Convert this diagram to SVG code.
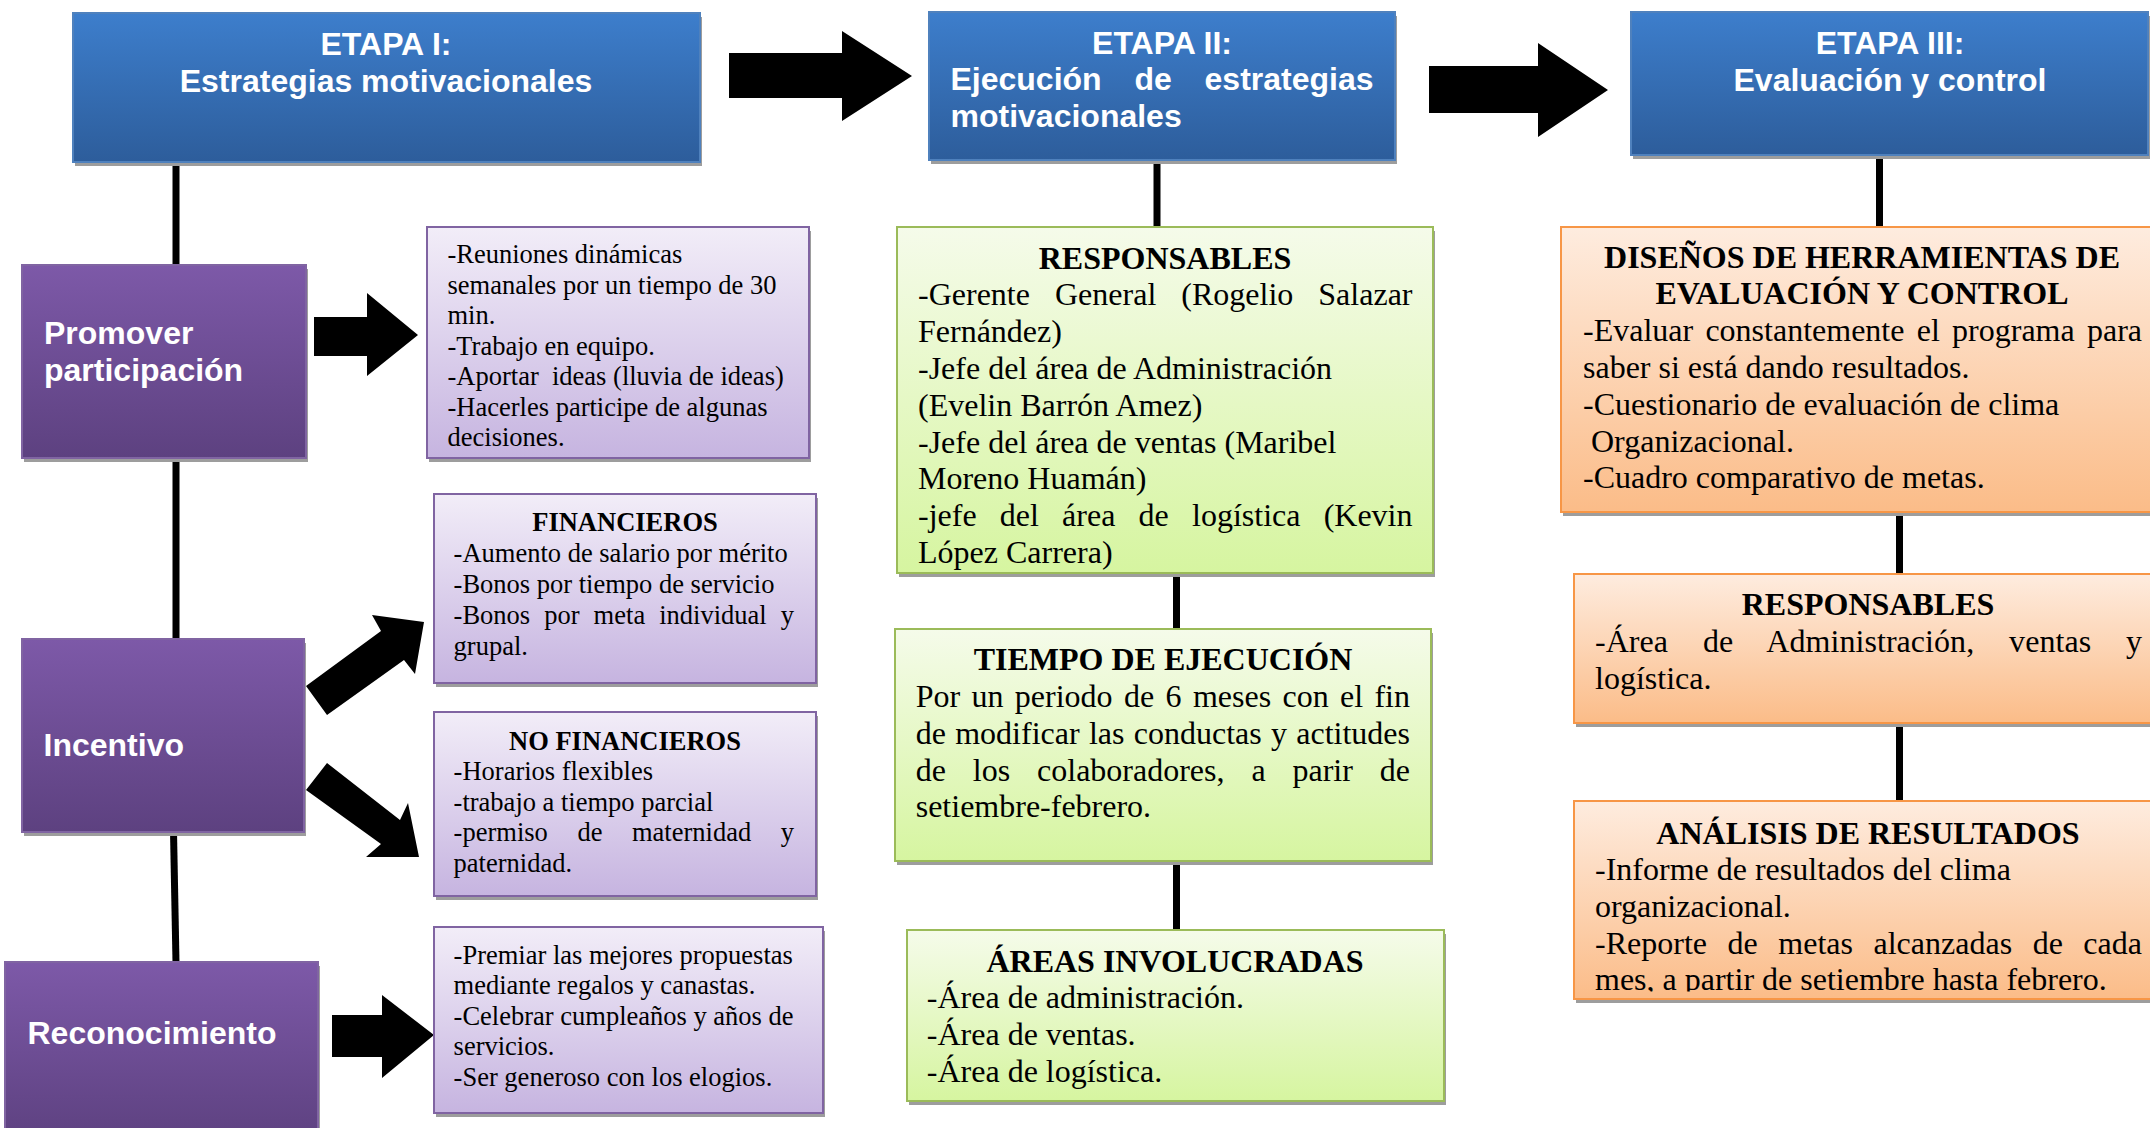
<svg xmlns="http://www.w3.org/2000/svg" width="2150" height="1128" viewBox="0 0 2150 1128">
  <defs>
    <linearGradient id="gBlue" x1="0" y1="0" x2="0" y2="1">
      <stop offset="0" stop-color="#3D7ECC"/>
      <stop offset="1" stop-color="#2D5D9B"/>
    </linearGradient>
    <linearGradient id="gPurple" x1="0" y1="0" x2="0" y2="1">
      <stop offset="0" stop-color="#7D59A8"/>
      <stop offset="1" stop-color="#5D4180"/>
    </linearGradient>
    <linearGradient id="gLav" x1="0" y1="0" x2="0" y2="1">
      <stop offset="0" stop-color="#F2EDF8"/>
      <stop offset="1" stop-color="#C6B4E0"/>
    </linearGradient>
    <linearGradient id="gGreen" x1="0" y1="0" x2="0" y2="1">
      <stop offset="0" stop-color="#F5FBEA"/>
      <stop offset="1" stop-color="#D6F5A0"/>
    </linearGradient>
    <linearGradient id="gOrange" x1="0" y1="0" x2="0" y2="1">
      <stop offset="0" stop-color="#FEECDF"/>
      <stop offset="1" stop-color="#FBBC88"/>
    </linearGradient>
    <clipPath id="clipAnalisis">
      <rect x="1574" y="801" width="600" height="190.5"/>
    </clipPath>
  </defs>
  <style>
    .sh{fill:#9d9d9d}
    .blue{fill:url(#gBlue);stroke:#4F81BD;stroke-width:2}
    .purple{fill:url(#gPurple);stroke:#8064A2;stroke-width:2}
    .lav{fill:url(#gLav);stroke:#8064A2;stroke-width:2}
    .green{fill:url(#gGreen);stroke:#9BBB59;stroke-width:2}
    .orange{fill:url(#gOrange);stroke:#F79646;stroke-width:2}
    .hw{font-family:"Liberation Sans",Arial,sans-serif;font-weight:bold;font-size:32px;fill:#fff}
    .c{text-anchor:middle}
    .s{font-family:"Liberation Serif","Times New Roman",serif;font-size:26.5px;fill:#000}
    .m{font-family:"Liberation Serif","Times New Roman",serif;font-size:32px;fill:#000}
    .b{font-weight:bold}
    .link{stroke:#000;stroke-width:7;fill:none}
    .arrow{fill:#000}
  </style>

  <rect width="2150" height="1128" fill="#fff"/>

  <!-- connectors and block arrows -->
  <g id="connectors">
    <line class="link" x1="176" y1="160" x2="176" y2="266"/>
    <line class="link" x1="176" y1="457" x2="176" y2="640"/>
    <line class="link" x1="173.5" y1="831" x2="176" y2="963"/>
    <line class="link" x1="1157" y1="158" x2="1157" y2="228"/>
    <line class="link" x1="1176.5" y1="572" x2="1176.5" y2="630"/>
    <line class="link" x1="1176.5" y1="860" x2="1176.5" y2="931"/>
    <line class="link" x1="1879.5" y1="154" x2="1879.5" y2="228"/>
    <line class="link" x1="1899.5" y1="511" x2="1899.5" y2="575"/>
    <line class="link" x1="1899.5" y1="722" x2="1899.5" y2="802"/>
    <polygon class="arrow" points="729,53 842,53 842,31 912,76 842,121 842,98 729,98"/>
    <polygon class="arrow" points="1429,66 1538,66 1538,43 1608,90 1538,137 1538,113 1429,113"/>
    <polygon class="arrow" points="314,317 367,317 367,293 418,335 367,376 367,356 314,356"/>
    <polygon class="arrow" points="306,686 381,631 372,615 424,622 415,674 404,660 327,715"/>
    <polygon class="arrow" points="327,763 400,820 408,803 419,857 366,857 381,844 306,790"/>
    <polygon class="arrow" points="332,1015 382,1015 382,995 434,1035 382,1078 382,1057 332,1057"/>
  </g>

  <!-- stage headers -->
  <g id="etapa1">
    <rect class="sh" x="75" y="17" width="627" height="149"/>
    <rect class="blue" x="73" y="13" width="627" height="149"/>
    <text class="hw c" x="386" y="54.5">ETAPA I:</text>
    <text class="hw c" x="386" y="91.5">Estrategias motivacionales</text>
  </g>
  <g id="etapa2">
    <rect class="sh" x="931" y="16" width="466" height="148"/>
    <rect class="blue" x="929" y="12" width="466" height="148"/>
    <text class="hw c" x="1162" y="53.5">ETAPA II:</text>
    <text class="hw" x="950.5" y="90" word-spacing="23.9" textLength="423" lengthAdjust="spacing">Ejecución de estrategias</text>
    <text class="hw" x="950.5" y="126.5">motivacionales</text>
  </g>
  <g id="etapa3">
    <rect class="sh" x="1633" y="16" width="517" height="143"/>
    <rect class="blue" x="1631" y="12" width="517" height="143"/>
    <text class="hw c" x="1890" y="54">ETAPA III:</text>
    <text class="hw c" x="1890" y="90.5">Evaluación y control</text>
  </g>

  <!-- stage I: strategies -->
  <g id="promover">
    <rect class="sh" x="24" y="269" width="284" height="193"/>
    <rect class="purple" x="22" y="265" width="284" height="193"/>
    <text class="hw" x="44" y="344">Promover</text>
    <text class="hw" x="44" y="381">participación</text>
  </g>
  <g id="incentivo">
    <rect class="sh" x="24" y="643" width="282" height="193"/>
    <rect class="purple" x="22" y="639" width="282" height="193"/>
    <text class="hw" x="43.5" y="756">Incentivo</text>
  </g>
  <g id="reconocimiento">
    <rect class="sh" x="7" y="966" width="313" height="180"/>
    <rect class="purple" x="5" y="962" width="313" height="180"/>
    <text class="hw" x="27.5" y="1043.5">Reconocimiento</text>
  </g>

  <g id="participacion-detalle">
    <rect class="sh" x="429" y="231" width="382" height="231"/>
    <rect class="lav" x="427" y="227" width="382" height="231"/>
    <text class="s" x="447.5" y="263">-Reuniones dinámicas</text>
    <text class="s" x="447.5" y="293.5">semanales por un tiempo de 30</text>
    <text class="s" x="447.5" y="324">min.</text>
    <text class="s" x="447.5" y="354.5">-Trabajo en equipo.</text>
    <text class="s" x="447.5" y="385" xml:space="preserve">-Aportar  ideas (lluvia de ideas)</text>
    <text class="s" x="447.5" y="415.5">-Hacerles participe de algunas</text>
    <text class="s" x="447.5" y="446">decisiones.</text>
  </g>
  <g id="financieros">
    <rect class="sh" x="436" y="498" width="382" height="189"/>
    <rect class="lav" x="434" y="494" width="382" height="189"/>
    <text class="s b c" x="625" y="530.5">FINANCIEROS</text>
    <text class="s" x="453.6" y="561.5">-Aumento de salario por mérito</text>
    <text class="s" x="453.6" y="592.5">-Bonos por tiempo de servicio</text>
    <text class="s" x="453.6" y="623.5" word-spacing="7.45" textLength="340.4" lengthAdjust="spacing">-Bonos por meta individual y</text>
    <text class="s" x="453.6" y="654.5">grupal.</text>
  </g>
  <g id="no-financieros">
    <rect class="sh" x="436" y="716" width="382" height="184"/>
    <rect class="lav" x="434" y="712" width="382" height="184"/>
    <text class="s b c" x="625" y="749.5">NO FINANCIEROS</text>
    <text class="s" x="453.6" y="780">-Horarios flexibles</text>
    <text class="s" x="453.6" y="810.5">-trabajo a tiempo parcial</text>
    <text class="s" x="453.6" y="841" word-spacing="22.9" textLength="340.4" lengthAdjust="spacing">-permiso de maternidad y</text>
    <text class="s" x="453.6" y="871.5">paternidad.</text>
  </g>
  <g id="reconocimiento-detalle">
    <rect class="sh" x="436" y="931" width="389" height="186"/>
    <rect class="lav" x="434" y="927" width="389" height="186"/>
    <text class="s" x="453.6" y="963.5">-Premiar las mejores propuestas</text>
    <text class="s" x="453.6" y="994">mediante regalos y canastas.</text>
    <text class="s" x="453.6" y="1024.5">-Celebrar cumpleaños y años de</text>
    <text class="s" x="453.6" y="1055">servicios.</text>
    <text class="s" x="453.6" y="1085.5">-Ser generoso con los elogios.</text>
  </g>

  <!-- stage II: execution -->
  <g id="responsables-ejecucion">
    <rect class="sh" x="899" y="231" width="536" height="346"/>
    <rect class="green" x="897" y="227" width="536" height="346"/>
    <text class="m b c" x="1165" y="268.5">RESPONSABLES</text>
    <text class="m" x="918" y="305.3" word-spacing="17" textLength="494.5" lengthAdjust="spacing">-Gerente General (Rogelio Salazar</text>
    <text class="m" x="918" y="342.1">Fernández)</text>
    <text class="m" x="918" y="378.9">-Jefe del área de Administración</text>
    <text class="m" x="918" y="415.7">(Evelin Barrón Amez)</text>
    <text class="m" x="918" y="452.5">-Jefe del área de ventas (Maribel</text>
    <text class="m" x="918" y="489.3">Moreno Huamán)</text>
    <text class="m" x="918" y="526.1" word-spacing="15.2" textLength="494.5" lengthAdjust="spacing">-jefe del área de logística (Kevin</text>
    <text class="m" x="918" y="562.9">López Carrera)</text>
  </g>
  <g id="tiempo-ejecucion">
    <rect class="sh" x="897" y="633" width="536" height="232"/>
    <rect class="green" x="895" y="629" width="536" height="232"/>
    <text class="m b c" x="1163" y="670.2">TIEMPO DE EJECUCIÓN</text>
    <text class="m" x="915.7" y="707" word-spacing="3.35" textLength="494.3" lengthAdjust="spacing">Por un periodo de 6 meses con el fin</text>
    <text class="m" x="915.7" y="743.8" word-spacing="1.3" textLength="494.3" lengthAdjust="spacing">de modificar las conductas y actitudes</text>
    <text class="m" x="915.7" y="780.6" word-spacing="18.9" textLength="494.3" lengthAdjust="spacing">de los colaboradores, a parir de</text>
    <text class="m" x="915.7" y="817.4">setiembre-febrero.</text>
  </g>
  <g id="areas-involucradas">
    <rect class="sh" x="909" y="934" width="537" height="171"/>
    <rect class="green" x="907" y="930" width="537" height="171"/>
    <text class="m b c" x="1175" y="971.5">ÁREAS INVOLUCRADAS</text>
    <text class="m" x="926.8" y="1008.3">-Área de administración.</text>
    <text class="m" x="926.8" y="1045.1">-Área de ventas.</text>
    <text class="m" x="926.8" y="1081.9">-Área de logística.</text>
  </g>

  <!-- stage III: evaluation -->
  <g id="herramientas-evaluacion">
    <rect class="sh" x="1563" y="231" width="610" height="285"/>
    <rect class="orange" x="1561" y="227" width="610" height="285"/>
    <text class="m b c" x="1862" y="267.5">DISEÑOS DE HERRAMIENTAS DE</text>
    <text class="m b c" x="1862" y="304.3">EVALUACIÓN Y CONTROL</text>
    <text class="m" x="1583" y="341.1" word-spacing="4.25" textLength="559" lengthAdjust="spacing">-Evaluar constantemente el programa para</text>
    <text class="m" x="1583" y="377.9">saber si está dando resultados.</text>
    <text class="m" x="1583" y="414.7">-Cuestionario de evaluación de clima</text>
    <text class="m" x="1591" y="451.5">Organizacional.</text>
    <text class="m" x="1583" y="488.3">-Cuadro comparativo de metas.</text>
  </g>
  <g id="responsables-evaluacion">
    <rect class="sh" x="1576" y="578" width="600" height="149"/>
    <rect class="orange" x="1574" y="574" width="600" height="149"/>
    <text class="m b c" x="1868" y="614.5">RESPONSABLES</text>
    <text class="m" x="1595" y="651.5" word-spacing="26.8" textLength="547" lengthAdjust="spacing">-Área de Administración, ventas y</text>
    <text class="m" x="1595" y="688.5">logística.</text>
  </g>
  <g id="analisis-resultados">
    <rect class="sh" x="1576" y="805" width="600" height="198"/>
    <rect class="orange" x="1574" y="801" width="600" height="198"/>
    <g clip-path="url(#clipAnalisis)">
      <text class="m b c" x="1868" y="843.5">ANÁLISIS DE RESULTADOS</text>
      <text class="m" x="1595" y="880.3">-Informe de resultados del clima</text>
      <text class="m" x="1595" y="917.1">organizacional.</text>
      <text class="m" x="1595" y="953.9" word-spacing="12.5" textLength="547" lengthAdjust="spacing">-Reporte de metas alcanzadas de cada</text>
      <text class="m" x="1595" y="990">mes, a partir de setiembre hasta febrero.</text>
    </g>
  </g>
</svg>
